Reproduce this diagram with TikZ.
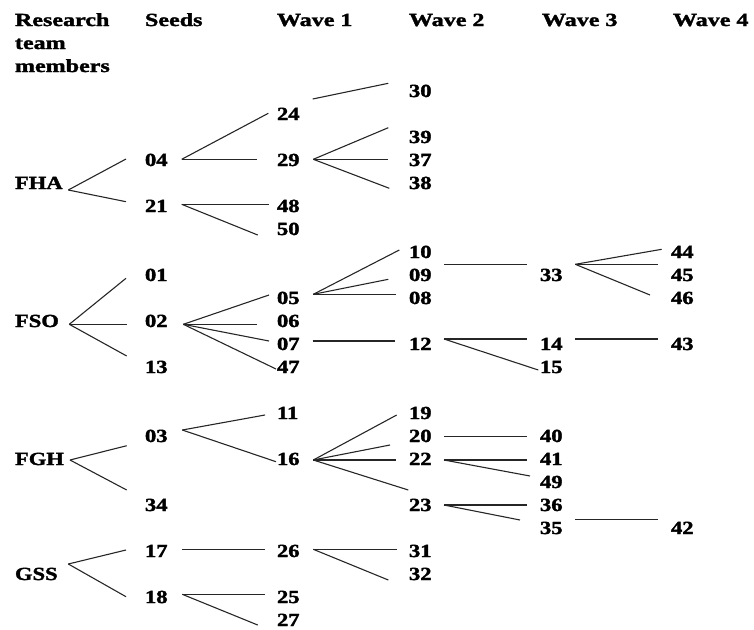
\documentclass[tikz,border=0pt]{standalone}
\usepackage{fontspec}
\setmainfont{Liberation Serif}[BoldFeatures={FakeBold=1.6}]
\newcommand\sx[1]{\scalebox{1.22}[1]{#1}}
\newcommand\hx[1]{\scalebox{1.3}[1]{#1}}
\newcommand\lnk[4]{\draw[link] ([shift={(#2)}]#1.base west) -- ([shift={(#4)}]#3.base west);}
\begin{document}
\begin{tikzpicture}[x=1pt,y=-1pt,
  lbl/.style={anchor=base west,inner sep=0pt,outer sep=0pt,font=\bfseries\fontsize{18.5}{23}\selectfont,text=black},
  hdr/.style={lbl,align=left},
  link/.style={draw=black!85,line width=1.1pt}]
\useasboundingbox (0,0) rectangle (754,629);
% headers
\node[hdr] (hRes) at (15,72) {\hx{Research}\\\hx{team}\\\hx{members}};
\node[hdr] (hSeeds) at (145,26) {\hx{Seeds}};
\node[hdr] (hW1) at (277,26) {\hx{Wave 1}};
\node[hdr] (hW2) at (409,26) {\hx{Wave 2}};
\node[hdr] (hW3) at (542,26) {\hx{Wave 3}};
\node[hdr] (hW4) at (673,26) {\hx{Wave 4}};
% team
\node[lbl] (FHA) at (15,189) {\sx{FHA}};
\node[lbl] (FSO) at (15,327) {\sx{FSO}};
\node[lbl] (FGH) at (15,465) {\sx{FGH}};
\node[lbl] (GSS) at (15,580) {\sx{GSS}};
% seeds
\foreach \n/\y in {04/166,21/212,01/281,02/327,13/373,03/442,34/511,17/557,18/603}
  \node[lbl] (n\n) at (145,\y) {\sx{\n}};
% wave 1
\foreach \n/\y in {24/120,29/166,48/212,50/235,05/304,06/327,07/350,47/373,11/419,16/465,26/557,25/603,27/626}
  \node[lbl] (n\n) at (277,\y) {\sx{\n}};
% wave 2
\foreach \n/\y in {30/97,39/143,37/166,38/189,10/258,09/281,08/304,12/350,19/419,20/442,22/465,23/511,31/557,32/580}
  \node[lbl] (n\n) at (409,\y) {\sx{\n}};
% wave 3
\foreach \n/\y in {33/281,14/350,15/373,40/442,41/465,49/488,36/511,35/534}
  \node[lbl] (n\n) at (540,\y) {\sx{\n}};
% wave 4
\foreach \n/\y in {44/258,45/281,46/304,43/350,42/534}
  \node[lbl] (n\n) at (671,\y) {\sx{\n}};
% team -> seeds
\lnk{FHA}{53.3,1}{n04}{-19,-7}
\lnk{FHA}{53.3,1}{n21}{-19,-10.3}
\lnk{FSO}{54.3,-2.7}{n01}{-19,-2.7}
\lnk{FSO}{54.3,-2.7}{n02}{-18.3,-2.7}
\lnk{FSO}{54.3,-2.7}{n13}{-18.3,-17}
\lnk{FGH}{55,-5}{n03}{-18.3,3.7}
\lnk{FGH}{55,-5}{n34}{-18.3,-21}
\lnk{GSS}{53.3,-16}{n17}{-19,-7}
\lnk{GSS}{53.3,-16}{n18}{-19,-6.3}
% seeds -> wave 1
\lnk{n04}{36.7,-6.7}{n24}{-8.7,-6.7}
\lnk{n04}{36.7,-6.7}{n29}{-19.7,-6.7}
\lnk{n21}{36.7,-7.7}{n48}{-8.3,-7.7}
\lnk{n21}{36.7,-7.7}{n50}{-19.3,0}
\lnk{n02}{38.3,-2.7}{n05}{-8,-9}
\lnk{n02}{38.3,-2.7}{n06}{-19.7,-2.7}
\lnk{n02}{38.3,-2.7}{n07}{-8,-9}
\lnk{n02}{38.3,-2.7}{n47}{-1,-4}
\lnk{n03}{37.3,-12}{n11}{-12,-4}
\lnk{n03}{37.3,-12}{n16}{-1,-3.3}
\lnk{n17}{37.3,-7.7}{n26}{-12,-7.7}
\lnk{n18}{37.3,-8.7}{n25}{-12,-8.7}
\lnk{n18}{37.3,-8.7}{n27}{-19.3,-1}
% wave 1 -> wave 2
\lnk{n24}{35.7,-21}{n30}{-20.7,-13.7}
\lnk{n29}{36.3,-6.7}{n39}{-20.7,-15.3}
\lnk{n29}{36.3,-6.7}{n37}{-20.7,-6.7}
\lnk{n29}{36.3,-6.7}{n38}{-19.7,-0.7}
\lnk{n05}{36.3,-9.7}{n10}{-9.7,-8}
\lnk{n05}{36.3,-9.7}{n09}{-20.7,-1.7}
\lnk{n05}{36.3,-9.7}{n08}{-13,-9.7}
\lnk{n07}{35.7,-9}{n12}{-14,-9}
\lnk{n16}{36.3,-5}{n19}{-12.3,-4}
\lnk{n16}{36.3,-5}{n20}{-19,3}
\lnk{n16}{36.3,-5}{n22}{-13,-5}
\lnk{n16}{36.3,-5}{n23}{-0.7,-21}
\lnk{n26}{36.3,-7.7}{n31}{-12.3,-7.7}
\lnk{n26}{36.3,-7.7}{n32}{-20.7,0}
% wave 2 -> wave 3
\lnk{n09}{35,-16.7}{n33}{-13.3,-16.7}
\lnk{n12}{35,-11}{n14}{-13.3,-11}
\lnk{n12}{35,-11}{n15}{-1.7,-3}
\lnk{n20}{35,-5.3}{n40}{-13.3,-5.3}
\lnk{n22}{35,-5}{n41}{-13.3,-5}
\lnk{n22}{35,-5}{n49}{-10,-12}
\lnk{n23}{35,-6}{n36}{-13.3,-6}
\lnk{n23}{35,-6}{n35}{-20,-14}
% wave 3 -> wave 4
\lnk{n33}{35.3,-16.7}{n44}{-9.3,-8.7}
\lnk{n33}{35.3,-16.7}{n45}{-12.7,-16.7}
\lnk{n33}{35.3,-16.7}{n46}{-21,-9}
\lnk{n14}{35.3,-11}{n43}{-12.7,-11}
\lnk{n35}{35.3,-14.7}{n42}{-12.7,-14.7}
\end{tikzpicture}
\end{document}
